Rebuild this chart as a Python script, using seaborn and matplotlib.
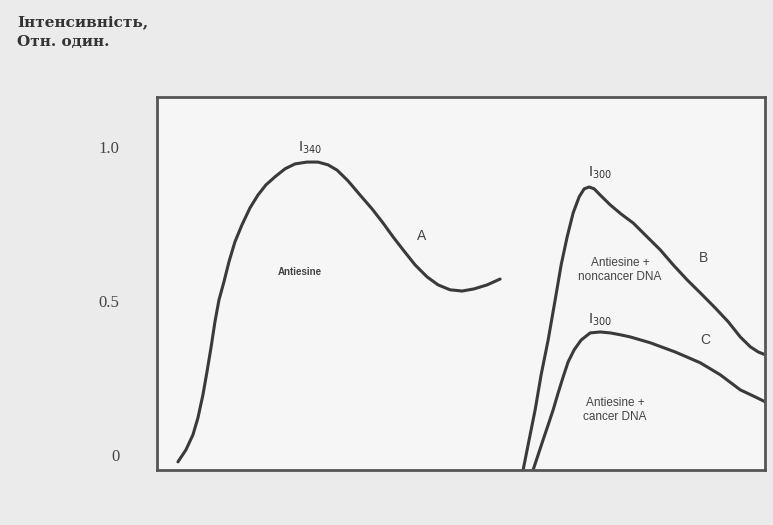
import numpy as np
import pandas as pd
import matplotlib.pyplot as plt
import seaborn as sns

# x is in arbitrary units across the frame (0..608), y in relative intensity
# Curve A (free dye)
a_x = [21, 29, 36, 41, 46, 50, 54, 58, 62, 67, 72, 78, 85, 93, 101, 109, 118, 128, 138,
       150, 161, 171, 180, 191, 203, 215, 226, 236, 246, 258, 270, 281, 293, 305, 317, 330, 343]
a_y = [-0.023, 0.016, 0.065, 0.120, 0.195, 0.269, 0.347, 0.432, 0.503, 0.562, 0.627, 0.692,
       0.747, 0.802, 0.844, 0.877, 0.903, 0.929, 0.945, 0.951, 0.951, 0.942, 0.925, 0.890,
       0.844, 0.799, 0.753, 0.708, 0.666, 0.617, 0.578, 0.552, 0.536, 0.532, 0.539, 0.552, 0.571]

# Curve B (dye + noncancer DNA)
b_x = [366, 372, 378, 384, 391, 398, 404, 410, 416, 422, 427, 432, 437, 443, 453, 464, 476,
       489, 503, 516, 530, 544, 558, 571, 583, 593, 601, 608]
b_y = [-0.049, 0.049, 0.146, 0.260, 0.373, 0.503, 0.617, 0.708, 0.786, 0.838, 0.864, 0.870,
       0.864, 0.844, 0.812, 0.782, 0.753, 0.711, 0.666, 0.617, 0.568, 0.523, 0.477, 0.432,
       0.383, 0.351, 0.334, 0.325]

# Curve C (dye + cancer DNA)
c_x = [376, 381, 386, 391, 396, 401, 406, 411, 417, 424, 433, 443, 453, 463, 473, 493, 518,
       543, 563, 583, 598, 608]
c_y = [-0.049, 0.0, 0.049, 0.097, 0.146, 0.201, 0.253, 0.302, 0.341, 0.373, 0.396, 0.399,
       0.396, 0.390, 0.383, 0.364, 0.334, 0.299, 0.260, 0.211, 0.188, 0.172]

y_ticks = [0, 0.5, 1.0]
y_tick_labels = ["0", "0.5", "1.0"]

curves = pd.concat([
    pd.DataFrame({"x": a_x, "y": a_y, "curve": "A"}),
    pd.DataFrame({"x": b_x, "y": b_y, "curve": "B"}),
    pd.DataFrame({"x": c_x, "y": c_y, "curve": "C"}),
])

sns.set_style("white")
fig = plt.figure(figsize=(7.73, 5.25), dpi=100, facecolor="#ebebeb")
ax = fig.add_axes([0.203, 0.105, 0.787, 0.710])
ax.set_facecolor("#f6f6f6")

sns.lineplot(data=curves, x="x", y="y", units="curve", estimator=None,
             sort=False, color="#3a3a3a", lw=2.2, ax=ax,
             solid_joinstyle="round", solid_capstyle="round")

ax.set_xlim(0, 608)
ax.set_ylim(-0.049, 1.162)
ax.set_xticks([])
ax.set_yticks(y_ticks)
ax.set_yticklabels(y_tick_labels, fontfamily="Liberation Serif", fontsize=12, color="#444444")
ax.tick_params(axis="y", length=0, pad=27)
ax.set_xlabel("")
ax.set_ylabel("")
for s in ax.spines.values():
    s.set_color("#555555")
    s.set_linewidth(2)

ax.text(143, 0.594, "Antiesine", fontfamily="Liberation Sans", color="#444444",
        fontsize=7, fontweight="bold", ha="center", va="center")
txt = dict(fontfamily="Liberation Sans", color="#444444", fontsize=8.5, ha="center",
           va="center", linespacing=1.3)
ax.text(463, 0.60, "Antiesine +\nnoncancer DNA", **txt)
ax.text(458, 0.146, "Antiesine +\ncancer DNA", **txt)

lab = dict(fontfamily="Liberation Sans", color="#444444", fontsize=10, ha="center", va="center")
ax.text(265, 0.711, "A", **lab)
ax.text(546, 0.640, "B", **lab)
ax.text(548, 0.373, "C", **lab)

sub = dict(color="#333333", fontsize=10, ha="center", va="center")
ax.text(153, 0.997, r"$\mathrm{I}_{340}$", **sub)
ax.text(443, 0.916, r"$\mathrm{I}_{300}$", **sub)
ax.text(443, 0.438, r"$\mathrm{I}_{300}$", **sub)

fig.text(0.022, 0.958, "Інтенсивність,", fontfamily="DejaVu Serif",
         fontweight="bold", fontsize=11, color="#333333", va="center")
fig.text(0.022, 0.920, "Отн. один.", fontfamily="DejaVu Serif",
         fontweight="bold", fontsize=11, color="#333333", va="center")

fig.savefig("out.png", dpi=100, facecolor=fig.get_facecolor())
